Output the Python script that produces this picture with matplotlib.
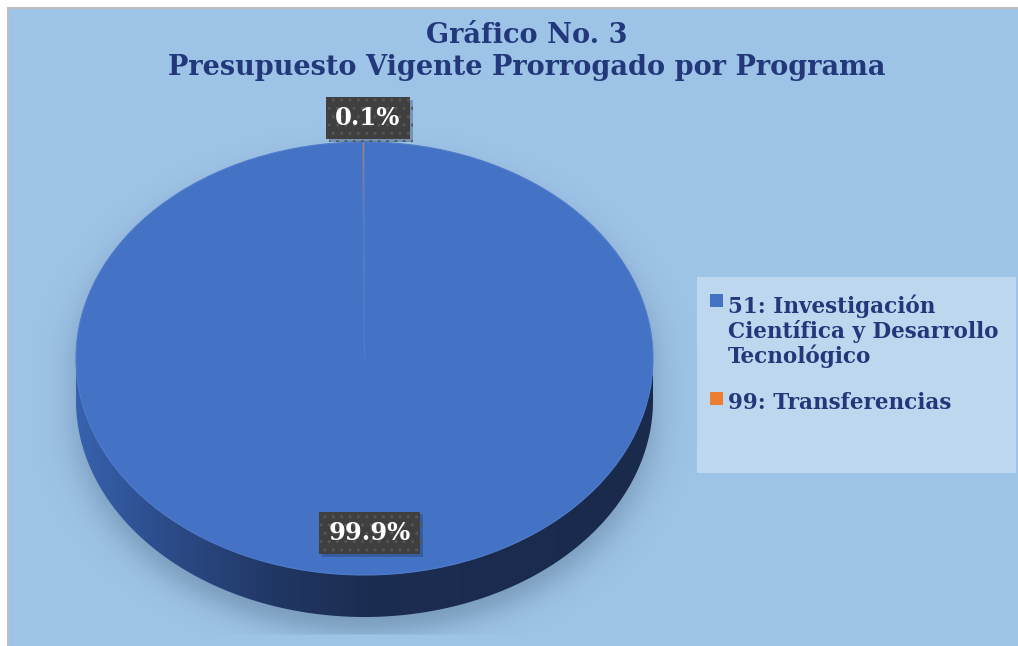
import numpy as np
import matplotlib
matplotlib.use("Agg")
import matplotlib.pyplot as plt
from matplotlib.patches import Rectangle, Polygon
from matplotlib.colors import LinearSegmentedColormap, to_rgb
import matplotlib.patheffects as pe

# ---------------- data ----------------
title_lines = ["Gráfico No. 3", "Presupuesto Vigente Prorrogado por Programa"]
categories = ["51: Investigación\nCientífica y Desarrollo\nTecnológico", "99: Transferencias"]
values = [99.9, 0.1]
colors = ["#4472C4", "#ED7D31"]

# ---------------- layout / style ----------------
W, H = 1018, 646
DPI = 100
cx, cy, rx, ry = 364.5, 358.5, 288.5, 216.5   # pie top-face ellipse, px
depth_px = 42
bg_color = "#9DC3E6"
legend_bg = "#BDD7EE"
text_color = "#22387A"
font = "DejaVu Serif"

fig = plt.figure(figsize=(W / DPI, H / DPI), dpi=DPI, facecolor="white")

# background axes in pixel coordinates
bg = fig.add_axes([0, 0, 1, 1])
bg.set_xlim(0, W)
bg.set_ylim(H, 0)
bg.axis("off")
bg.add_patch(Rectangle((8, 8), W + 20, H + 20, facecolor=bg_color, edgecolor="#BFBFBF", lw=1.5, zorder=0))
bg.add_patch(Rectangle((697, 277), 319, 196, facecolor=legend_bg, edgecolor="none", zorder=1))

# title
bg.text(527, 43, title_lines[0], ha="center", va="baseline", fontsize=19.5,
        fontweight="bold", family=font, color=text_color, zorder=5)
bg.text(527, 75, title_lines[1], ha="center", va="baseline", fontsize=19.5,
        fontweight="bold", family=font, color=text_color, zorder=5)

# ---------------- pie axes ----------------
ax = fig.add_axes([0, 0, 1, 1])
ax.patch.set_alpha(0)
xl = ((0 - cx) / rx, (W - cx) / rx)
yl = ((cy - H) / ry, cy / ry)
dd = depth_px / ry

# soft shadow under the extruded pie
gx = np.linspace(xl[0], xl[1], 700)
gy = np.linspace(yl[0], yl[1], 450)
X, Y = np.meshgrid(gx, gy)
shift = 16 / ry
yy = Y + shift
yy2 = np.where(yy > 0, yy, np.where(yy > -dd, 0, yy + dd))
rho = np.sqrt(X ** 2 + yy2 ** 2)
alpha = 0.30 / (1 + np.exp((rho - 1.0) * ry / 8.0))
ypx = cy - Y * ry
alpha[ypx > 635] = 0
shadow = np.zeros(X.shape + (4,))
shadow[..., :3] = to_rgb("#1F3550")
shadow[..., 3] = alpha
ax.imshow(shadow, extent=(xl[0], xl[1], yl[0], yl[1]), origin="lower",
          aspect="auto", zorder=1, interpolation="bilinear")

# side of the pie with a horizontal gradient
t = np.linspace(np.pi, 2 * np.pi, 300)
top_arc = np.column_stack([np.cos(t), np.sin(t)])
bot_arc = np.column_stack([np.cos(t[::-1]), np.sin(t[::-1]) - dd])
side = Polygon(np.vstack([top_arc, bot_arc]), closed=True, facecolor="none", edgecolor="none")
ax.add_patch(side)
side_cmap = LinearSegmentedColormap.from_list(
    "side", [(0, "#3862AE"), (0.15, "#2C4C8A"), (0.35, "#203763"), (0.5, "#1C2D52"), (1, "#1A2A4B")])
grad = np.linspace(0, 1, 256)[None, :]
im = ax.imshow(grad, extent=(-1, 1, -1 - dd, 0), cmap=side_cmap, aspect="auto", zorder=2)
im.set_clip_path(side)

# top face
wedges, _ = ax.pie(values, colors=colors, startangle=90, counterclock=False, radius=1,
                   center=(0, 0), frame=False,
                   wedgeprops=dict(edgecolor="#4F7BCB", linewidth=0.8, zorder=3))
for w in wedges:
    w.set_zorder(3)
ax.set_aspect("auto")
ax.set_xlim(*xl)
ax.set_ylim(*yl)
ax.axis("off")

# data labels
label_dist = [0.805, 1.11]
total = sum(values)
for w, v, dist in zip(wedges, values, label_dist):
    ang = np.deg2rad((w.theta1 + w.theta2) / 2)
    txt = ax.text(dist * np.cos(ang) + 0.015, dist * np.sin(ang), f"{v / total * 100:.1f}%",
                  ha="center", va="center", fontsize=17.5, fontweight="bold", family=font,
                  color="white", zorder=6,
                  bbox=dict(boxstyle="square,pad=0.38", facecolor="#3F3F3F",
                            edgecolor="#555555", linewidth=0, hatch=".."))
    txt.get_bbox_patch().set_path_effects(
        [pe.SimplePatchShadow(offset=(2, -2), shadow_rgbFace="#1A2A4B", alpha=0.3), pe.Normal()])

# legend (manual, beside the pie)
leg_x = 710
entry_tops = [294, 392]
for col, lab, top in zip(colors, categories, entry_tops):
    bg.add_patch(Rectangle((leg_x, top), 13, 13, facecolor=col, edgecolor="none", zorder=5))
    bg.text(728, top, lab, ha="left", va="top", fontsize=15.5, fontweight="bold",
            family=font, color=text_color, linespacing=1.12, zorder=5)

fig.savefig("out.png", dpi=DPI, facecolor="white")
